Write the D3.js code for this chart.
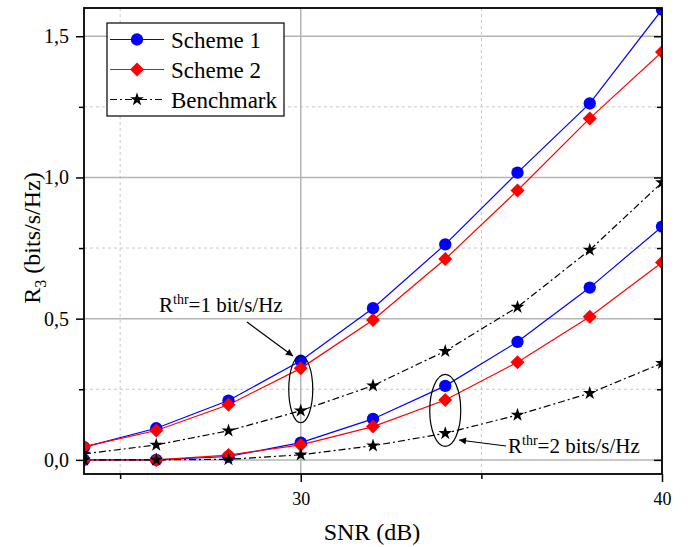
<!DOCTYPE html>
<html>
<head>
<meta charset="utf-8">
<script src="https://cdn.jsdelivr.net/npm/d3@7"></script>
<style>
  body { margin: 0; background: #fff; }
  text { font-family: "Liberation Serif", serif; }
</style>
</head>
<body>
<div id="chart"></div>
<script>
// dati
const snr = [24, 26, 28, 30, 32, 34, 36, 38, 40];
const scheme1_r1 = [0.045, 0.112, 0.21, 0.351, 0.537, 0.763, 1.017, 1.262, 1.594];
const scheme2_r1 = [0.047, 0.104, 0.195, 0.324, 0.495, 0.711, 0.954, 1.209, 1.444];
const bench_r1 = [0.021, 0.053, 0.103, 0.174, 0.263, 0.385, 0.541, 0.743, 0.982];
const scheme1_r2 = [0, 0, 0.012, 0.061, 0.145, 0.262, 0.418, 0.61, 0.826];
const scheme2_r2 = [0, 0, 0.017, 0.053, 0.118, 0.212, 0.346, 0.507, 0.699];
const bench_r2 = [0, 0, 0.002, 0.018, 0.05, 0.094, 0.159, 0.236, 0.342];

const xMajor = [30, 40];
const xMinor = [25, 35];
const yMajor = [0, 0.5, 1.0, 1.5];
const yMinor = [0.25, 0.75, 1.25];

const legendNames = ["Scheme 1", "Scheme 2", "Benchmark"];

const FONT = "Liberation Serif";
const W = 691, H = 547;
const margin = { top: 8, right: 29, bottom: 73, left: 84 };
const width = W - margin.left - margin.right;
const height = H - margin.top - margin.bottom;

const svg = d3.select("#chart").append("svg")
  .attr("width", W).attr("height", H)
  .attr("font-family", FONT);

const g = svg.append("g")
  .attr("transform", `translate(${margin.left},${margin.top})`);

const x = d3.scaleLinear().domain([24, 40]).range([0, width]);
const y = d3.scaleLinear().domain([-0.05, 1.6]).range([height, 0]);

const defs = svg.append("defs");
defs.append("clipPath").attr("id", "clip")
  .append("rect").attr("width", width).attr("height", height);

// griglia
const grid = g.append("g");
grid.selectAll(".gxmin").data(xMinor).enter().append("line")
  .attr("x1", d => x(d)).attr("x2", d => x(d)).attr("y1", 0).attr("y2", height)
  .attr("stroke", "#c8c8c8").attr("stroke-width", 1).attr("stroke-dasharray", "3,3");
grid.selectAll(".gymin").data(yMinor).enter().append("line")
  .attr("x1", 0).attr("x2", width).attr("y1", d => y(d)).attr("y2", d => y(d))
  .attr("stroke", "#c8c8c8").attr("stroke-width", 1).attr("stroke-dasharray", "3,3");
grid.selectAll(".gxmaj").data(xMajor).enter().append("line")
  .attr("x1", d => x(d)).attr("x2", d => x(d)).attr("y1", 0).attr("y2", height)
  .attr("stroke", "#b4b4b4").attr("stroke-width", 1.5);
grid.selectAll(".gymaj").data(yMajor).enter().append("line")
  .attr("x1", 0).attr("x2", width).attr("y1", d => y(d)).attr("y2", d => y(d))
  .attr("stroke", "#b4b4b4").attr("stroke-width", 1.5);

// serie
const series = [
  { vals: scheme1_r1, color: "blue", sym: "circle", dash: null },
  { vals: scheme1_r2, color: "blue", sym: "circle", dash: null },
  { vals: scheme2_r1, color: "red", sym: "diamond", dash: null },
  { vals: scheme2_r2, color: "red", sym: "diamond", dash: null },
  { vals: bench_r1, color: "black", sym: "star", dash: "7,3,2,3" },
  { vals: bench_r2, color: "black", sym: "star", dash: "7,3,2,3" }
];

const line = d3.line().x(d => x(d[0])).y(d => y(d[1]));
const plot = g.append("g").attr("clip-path", "url(#clip)");

function symbolPath(sym) {
  if (sym === "circle") return d3.symbol(d3.symbolCircle, 120)();
  if (sym === "diamond") return d3.symbol(d3.symbolSquare, 98)();
  return d3.symbol(d3.symbolStar, 58)();
}

series.forEach(s => {
  const pts = snr.map((v, i) => [v, s.vals[i]]);
  plot.append("path").datum(pts)
    .attr("d", line)
    .attr("fill", "none")
    .attr("stroke", s.color)
    .attr("stroke-width", 1.2)
    .attr("stroke-dasharray", s.dash);
});
series.forEach(s => {
  const pts = snr.map((v, i) => [v, s.vals[i]]);
  plot.selectAll(null).data(pts).enter().append("path")
    .attr("d", symbolPath(s.sym))
    .attr("transform", d => `translate(${x(d[0])},${y(d[1])})` + (s.sym === "diamond" ? " rotate(45)" : ""))
    .attr("fill", s.color);
});

// assi
const axisStyle = size => sel => {
  sel.attr("font-family", FONT).attr("font-size", size);
  sel.select(".domain").remove();
  sel.selectAll("line").attr("stroke", "#000").attr("stroke-width", 1.5);
  sel.selectAll("text").attr("fill", "#000");
};
const fmt = d => d3.format(".1f")(d).replace(".", ",");

g.append("g").attr("transform", `translate(0,${height})`)
  .call(d3.axisBottom(x).tickValues(xMajor).tickSize(8).tickPadding(10).tickFormat(d3.format("d")))
  .call(axisStyle(18));
g.append("g").attr("transform", `translate(0,${height})`)
  .call(d3.axisBottom(x).tickValues(xMinor).tickSize(5).tickFormat(""))
  .call(axisStyle(18));
g.append("g")
  .call(d3.axisLeft(y).tickValues(yMajor).tickSize(8).tickPadding(7).tickFormat(fmt))
  .call(axisStyle(20));
g.append("g")
  .call(d3.axisLeft(y).tickValues(yMinor).tickSize(5).tickFormat(""))
  .call(axisStyle(20));
g.append("g").attr("transform", `translate(${width},0)`)
  .call(d3.axisLeft(y).tickValues(yMajor).tickSize(8).tickFormat(""))
  .call(axisStyle(20));
g.append("g").attr("transform", `translate(${width},0)`)
  .call(d3.axisLeft(y).tickValues(yMinor).tickSize(5).tickFormat(""))
  .call(axisStyle(20));

g.append("rect").attr("width", width).attr("height", height)
  .attr("fill", "none").attr("stroke", "#000").attr("stroke-width", 1.8);

// titoli assi
svg.append("text")
  .attr("x", margin.left + width / 2 - 1).attr("y", 540)
  .attr("text-anchor", "middle").attr("font-size", 24)
  .text("SNR (dB)");

const yt = svg.append("text")
  .attr("transform", `translate(40,${margin.top + height / 2 - 3}) rotate(-90)`)
  .attr("text-anchor", "middle").attr("font-size", 24);
yt.append("tspan").text("R");
yt.append("tspan").attr("font-size", 16).attr("dy", 6).text("3");
yt.append("tspan").attr("dy", -6).text(" (bits/s/Hz)");

// annotazioni
defs.append("marker").attr("id", "arrow")
  .attr("viewBox", "0 0 10 10").attr("refX", 10).attr("refY", 5)
  .attr("markerWidth", 11).attr("markerHeight", 7).attr("orient", "auto")
  .attr("markerUnits", "userSpaceOnUse")
  .append("path").attr("d", "M0,0 L10,5 L0,10 z").attr("fill", "#000");

g.append("ellipse")
  .attr("cx", x(30)).attr("cy", (y(0.36) + y(0.14)) / 2)
  .attr("rx", 12).attr("ry", 33.5)
  .attr("fill", "none").attr("stroke", "#000").attr("stroke-width", 1.2);
g.append("ellipse")
  .attr("cx", x(34)).attr("cy", (y(0.3) + y(0.05)) / 2)
  .attr("rx", 15.5).attr("ry", 36)
  .attr("fill", "none").attr("stroke", "#000").attr("stroke-width", 1.2);

svg.append("line")
  .attr("x1", 247).attr("y1", 322).attr("x2", 293).attr("y2", 356)
  .attr("stroke", "#000").attr("stroke-width", 1.2).attr("marker-end", "url(#arrow)");
svg.append("line")
  .attr("x1", 506).attr("y1", 446).attr("x2", 459).attr("y2", 440)
  .attr("stroke", "#000").attr("stroke-width", 1.2).attr("marker-end", "url(#arrow)");

function thrLabel(tx, ty, num, unit) {
  const t = svg.append("text").attr("x", tx).attr("y", ty).attr("font-size", 21);
  t.append("tspan").text("R");
  t.append("tspan").attr("font-size", 14).attr("dy", -8).text("thr");
  t.append("tspan").attr("dy", 8).text("=" + num + " " + unit);
}
thrLabel(159, 312, "1", "bit/s/Hz");
thrLabel(508, 453, "2", "bits/s/Hz");

// legenda
const leg = svg.append("g").attr("transform", "translate(107,23)");
leg.append("rect").attr("width", 177).attr("height", 93)
  .attr("fill", "#fff").attr("stroke", "#000").attr("stroke-width", 1.2);
const legSeries = [series[0], series[2], series[4]];
legSeries.forEach((s, i) => {
  const ly = 16.5 + i * 30;
  leg.append("line").attr("x1", 3).attr("x2", 57).attr("y1", ly).attr("y2", ly)
    .attr("stroke", s.color).attr("stroke-width", 1.2).attr("stroke-dasharray", s.dash);
  leg.append("path").attr("d", symbolPath(s.sym))
    .attr("transform", `translate(30,${ly})` + (s.sym === "diamond" ? " rotate(45)" : ""))
    .attr("fill", s.color);
  leg.append("text").attr("x", 64).attr("y", ly + 8).attr("font-size", 23)
    .text(legendNames[i]);
});
</script>
</body>
</html>
